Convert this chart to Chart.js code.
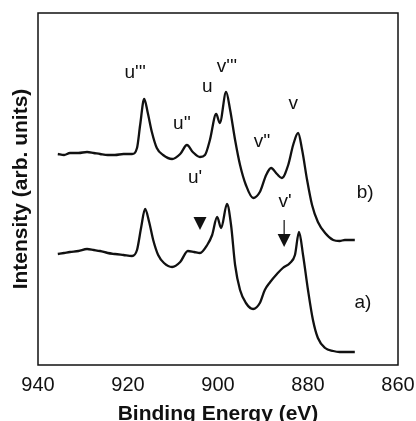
<!DOCTYPE html>
<html>
<head>
<meta charset="utf-8">
<script src="https://cdn.jsdelivr.net/npm/chart.js@4.4.1/dist/chart.umd.min.js"></script>
<style>
  html, body { margin: 0; padding: 0; background: #fff; }
  #wrap { width: 416px; height: 421px; }
</style>
</head>
<body>
<div id="wrap"><canvas id="xps"></canvas></div>
<script>
// spectrum b) (upper curve)
const energyB = [935.6, 934.2, 932.9, 931.0, 929.1, 927.6, 926.2, 924.5, 922.9, 921.0, 919.1, 918.0, 917.3, 916.4, 915.6, 914.7, 913.6, 912.2, 910.2, 908.4, 906.9, 905.6, 904.0, 902.9, 901.8, 900.4, 899.6, 898.2, 897.3, 896.2, 895.1, 893.8, 892.2, 890.7, 889.3, 888.2, 886.9, 885.8, 884.4, 883.3, 882.2, 881.3, 880.2, 879.1, 877.8, 876.2, 874.4, 873.0, 871.8, 869.6];
const intensityB = [211, 210, 212, 212, 213, 212, 211, 210, 210, 211, 211, 217, 240, 266, 252, 233, 217, 210, 206, 211, 220, 213, 208, 210, 225, 251, 242, 273, 255, 225, 200, 180, 167, 173, 190, 197, 191, 187, 200, 220, 232, 215, 185, 160, 143, 132, 125, 124, 125, 125];

// spectrum a) (lower curve)
const energyA = [935.6, 934.2, 932.9, 931.0, 929.1, 927.6, 926.2, 924.5, 922.9, 921.0, 919.1, 918.0, 917.1, 916.2, 915.3, 914.4, 913.3, 912.0, 910.2, 908.4, 906.7, 905.3, 904.0, 902.4, 901.3, 900.2, 899.3, 898.0, 897.1, 896.2, 895.1, 893.8, 892.2, 890.7, 889.6, 888.4, 886.9, 885.6, 884.0, 882.9, 882.0, 881.1, 880.0, 878.9, 877.8, 876.2, 874.4, 873.0, 871.8, 869.6];
const intensityA = [111, 112, 113, 114, 116, 115, 114, 112, 111, 110, 109, 115, 137, 156, 143, 125, 110, 102, 98, 103, 114, 113, 112, 120, 130, 148, 137, 161, 140, 100, 75, 62, 56, 62, 75, 83, 91, 97, 102, 110, 133, 110, 75, 45, 27, 17, 14, 13, 13, 13];

const xTicks = [940, 920, 900, 880, 860];

// peak labels: text, energy, intensity
const peakText = ["u'''", "u''", "u", "v'''", "v''", "v", "u'", "v'", "b)", "a)"];
const peakEnergy = [918.4, 908.0, 902.4, 898.0, 890.2, 883.3, 905.1, 885.1, 867.3, 867.8];
const peakLevel = [292, 241, 278, 298, 223, 261, 187, 163, 172, 62];

const toPoints = (xs, ys) => xs.map((x, i) => ({ x: x, y: ys[i] }));

// box, labels and arrows
const extras = {
    id: 'extras',
    afterDraw(chart) {
        const ctx = chart.ctx;
        const a = chart.chartArea;
        const sx = chart.scales.x, sy = chart.scales.y;
        ctx.save();
        ctx.strokeStyle = '#111';
        ctx.lineWidth = 1.5;
        ctx.strokeRect(a.left, a.top, a.right - a.left, a.bottom - a.top);

        ctx.fillStyle = '#111';
        ctx.font = '19px "Liberation Sans", Arial, sans-serif';
        ctx.textAlign = 'center';
        ctx.textBaseline = 'middle';
        peakText.forEach((t, i) => {
            ctx.fillText(t, sx.getPixelForValue(peakEnergy[i]), sy.getPixelForValue(peakLevel[i]));
        });

        // filled arrow heads
        const tri = (x, tipY) => {
            ctx.beginPath();
            ctx.moveTo(x - 6.5, tipY - 13);
            ctx.lineTo(x + 6.5, tipY - 13);
            ctx.lineTo(x, tipY);
            ctx.closePath();
            ctx.fill();
        };
        tri(sx.getPixelForValue(904.0), sy.getPixelForValue(135));
        const x2 = sx.getPixelForValue(885.3);
        tri(x2, sy.getPixelForValue(118));
        ctx.lineWidth = 1.2;
        ctx.beginPath();
        ctx.moveTo(x2, sy.getPixelForValue(145));
        ctx.lineTo(x2, sy.getPixelForValue(131));
        ctx.stroke();
        ctx.restore();
    }
};

new Chart(document.getElementById('xps'), {
    type: 'line',
    data: {
        datasets: [
            {
                label: 'b)',
                data: toPoints(energyB, intensityB),
                borderColor: '#111',
                borderWidth: 2.3,
                pointRadius: 0,
                cubicInterpolationMode: 'monotone',
                fill: false
            },
            {
                label: 'a)',
                data: toPoints(energyA, intensityA),
                borderColor: '#111',
                borderWidth: 2.3,
                pointRadius: 0,
                cubicInterpolationMode: 'monotone',
                fill: false
            }
        ]
    },
    options: {
        responsive: true,
        maintainAspectRatio: false,
        animation: false,
        layout: { padding: { top: 13, right: 18, left: 0, bottom: 0 } },
        plugins: {
            legend: { display: false },
            tooltip: { enabled: false }
        },
        scales: {
            x: {
                type: 'linear',
                reverse: true,
                min: 860,
                max: 940,
                afterBuildTicks: (s) => { s.ticks = xTicks.map(v => ({ value: v })); },
                afterFit: (s) => { s.height = 56; s.paddingLeft = 0; s.paddingRight = 0; },
                grid: { display: false, drawTicks: false },
                border: { display: false },
                ticks: {
                    color: '#111',
                    padding: 8,
                    maxRotation: 0,
                    font: { family: '"Liberation Sans", Arial, sans-serif', size: 20 }
                },
                title: {
                    display: true,
                    text: 'Binding Energy (eV)',
                    color: '#111',
                    padding: { top: 0, bottom: -4 },
                    font: { family: '"Liberation Sans", Arial, sans-serif', size: 21, weight: 'bold', lineHeight: 1 }
                }
            },
            y: {
                min: 0,
                max: 352,
                afterFit: (s) => { s.width = 38; s.paddingTop = 0; s.paddingBottom = 0; },
                grid: { display: false, drawTicks: false },
                border: { display: false },
                ticks: { display: false },
                title: {
                    display: true,
                    text: 'Intensity (arb. units)',
                    color: '#111',
                    padding: { top: 11, bottom: 0 },
                    font: { family: '"Liberation Sans", Arial, sans-serif', size: 21, weight: 'bold', lineHeight: 1 }
                }
            }
        }
    },
    plugins: [extras]
});
</script>
</body>
</html>
